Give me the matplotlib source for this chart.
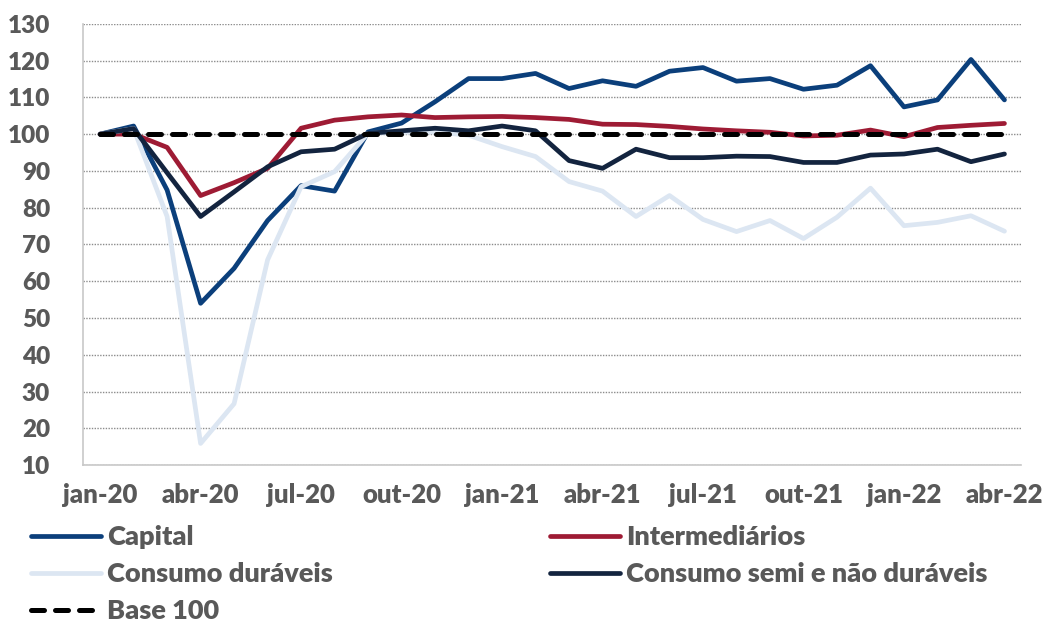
import matplotlib.pyplot as plt

months = ['jan-20', 'fev-20', 'mar-20', 'abr-20', 'mai-20', 'jun-20', 'jul-20',
          'ago-20', 'set-20', 'out-20', 'nov-20', 'dez-20', 'jan-21', 'fev-21',
          'mar-21', 'abr-21', 'mai-21', 'jun-21', 'jul-21', 'ago-21', 'set-21',
          'out-21', 'nov-21', 'dez-21', 'jan-22', 'fev-22', 'mar-22', 'abr-22']

capital = [100, 102.2, 84.8, 54.0, 63.5, 76.5, 86.0, 84.5, 100.6, 103.0, 108.8,
           115.1, 115.1, 116.5, 112.4, 114.5, 113.0, 117.1, 118.1, 114.4, 115.1,
           112.2, 113.3, 118.6, 107.4, 109.3, 120.3, 109.3]
intermediarios = [100, 100, 96.4, 83.3, 86.8, 90.7, 101.6, 103.8, 104.7, 105.2,
                  104.5, 104.7, 104.8, 104.5, 104.0, 102.7, 102.6, 102.1, 101.4,
                  100.9, 100.5, 99.5, 99.7, 101.1, 99.3, 101.8, 102.4, 102.9]
duraveis = [100, 101.5, 77.6, 15.9, 26.7, 65.8, 85.7, 89.8, 100.2, 100.5, 100.6,
            99.7, 96.6, 93.9, 87.1, 84.5, 77.6, 83.3, 76.8, 73.5, 76.5, 71.6,
            77.4, 85.3, 75.1, 76.0, 77.8, 73.6]
semi_nao_duraveis = [100, 101.5, 89.5, 77.6, 84.3, 91.1, 95.2, 95.9, 100.2, 100.9,
                     101.6, 100.9, 102.2, 100.9, 92.8, 90.7, 95.9, 93.6, 93.6, 94.0,
                     93.9, 92.3, 92.3, 94.3, 94.6, 95.9, 92.5, 94.6]
base = [100] * len(months)

plt.rcParams['font.family'] = ['Lato', 'DejaVu Sans']
plt.rcParams['font.weight'] = 'heavy'
text_color = '#595959'

fig = plt.figure(figsize=(10.46, 6.26), dpi=100)
ax = fig.add_axes([0.0797, 0.257, 0.8966, 0.705])

x = list(range(len(months)))
lw = 3.4
l_cap, = ax.plot(x, capital, color='#0b3f7b', lw=lw, solid_capstyle='round', label='Capital')
l_int, = ax.plot(x, intermediarios, color='#9e1b34', lw=lw, solid_capstyle='round', label='Intermediários')
l_dur, = ax.plot(x, duraveis, color='#dce6f2', lw=lw, solid_capstyle='round', label='Consumo duráveis')
l_semi, = ax.plot(x, semi_nao_duraveis, color='#13243f', lw=lw, solid_capstyle='round', label='Consumo semi e não duráveis')
l_base, = ax.plot(x, base, color='black', lw=3.6, dashes=(2.6, 2.2),
                  dash_capstyle='round', label='Base 100', zorder=5)

ax.set_xlim(-0.5, 27.5)
ax.set_ylim(10, 130)
ax.set_yticks(range(10, 131, 10))
ax.set_xticks(x[::3])
ax.set_xticklabels(months[::3])
ax.yaxis.grid(True, color='#8c8c8c', linestyle=(0, (1, 1)), lw=1)
ax.set_axisbelow(True)
for s in ['top', 'right']:
    ax.spines[s].set_visible(False)
for s in ['left', 'bottom']:
    ax.spines[s].set_color('#c8c8c8')
    ax.spines[s].set_linewidth(1.2)
ax.tick_params(length=0, colors=text_color)
ax.tick_params(axis='y', pad=24, labelsize=17.5)
ax.tick_params(axis='x', pad=13, labelsize=18.5)
for lab in ax.get_xticklabels() + ax.get_yticklabels():
    lab.set_fontweight('heavy')

handles = [l_cap, l_dur, l_base, l_int, l_semi]
leg = fig.legend(handles=handles, labels=[h.get_label() for h in handles],
                 ncol=2, loc='upper left', bbox_to_anchor=(0.0296, 0.161),
                 frameon=False, prop={'size': 19.5, 'weight': 'heavy'},
                 handlelength=2.6, handletextpad=0.22,
                 columnspacing=8.0, labelspacing=0.48, borderpad=0, borderaxespad=0)
for t in leg.get_texts():
    t.set_color(text_color)

fig.savefig('out.png', dpi=100)
